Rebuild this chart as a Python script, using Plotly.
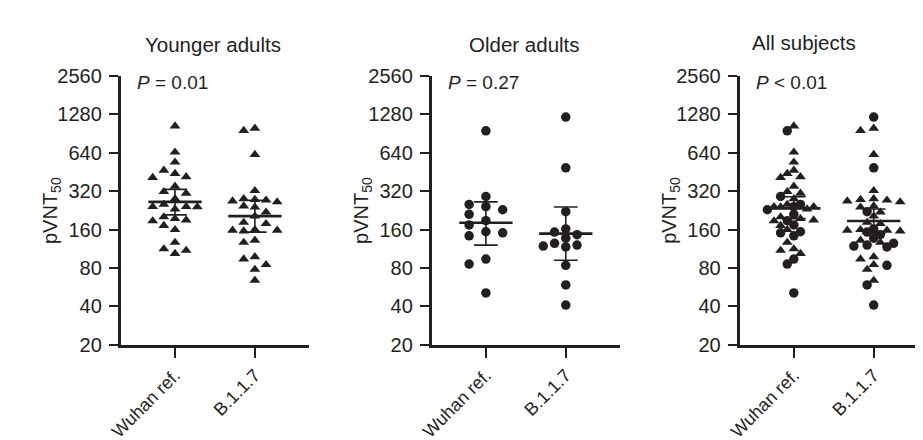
import numpy as np
import plotly.graph_objects as go

# ---------------- data ----------------
categories = ["Wuhan ref.", "B.1.1.7"]
panel_titles = ["Younger adults", "Older adults", "All subjects"]
p_labels = ["<i>P</i> = 0.01", "<i>P</i> = 0.27", "<i>P</i> < 0.01"]
y_tick_values = [20, 40, 80, 160, 320, 640, 1280, 2560]
y_tick_labels = ["20", "40", "80", "160", "320", "640", "1280", "2560"]

young_wuhan = [1037, 648, 540, 467, 440, 415, 409, 350, 317, 308, 279, 252, 242,
               242, 241, 232, 201, 195, 190, 187, 172, 160, 127, 113, 110, 104]
young_b117 = [997, 957, 620, 323, 279, 275, 272, 268, 264, 245, 240, 219, 204,
              182, 178, 160, 158, 158, 156, 132, 127, 98, 94, 85, 78, 64]
old_wuhan = [951, 291, 252, 242, 229, 211, 188, 174, 154, 151, 143, 94, 86, 51]
old_b117 = [1219, 488, 221, 162, 153, 146, 137, 125, 121, 119, 117, 84, 59, 41]

# geometric mean and 95% CI per panel: [Wuhan ref., B.1.1.7]
gmt_young = [264, 204]
ci_low_young = [209, 153]
ci_high_young = [331, 272]
gmt_old = [181, 149]
ci_low_old = [121, 92]
ci_high_old = [264, 241]
gmt_all = [235, 187]
ci_low_all = [195, 150]
ci_high_all = [290, 232]

# ---------------- layout geometry ----------------
W, H = 923, 440
INK = "#231f20"
FONT = "Liberation Sans, Arial, sans-serif"
axis_left_px = [102, 417, 729]
axis_width_px = 191
plot_top_px, plot_bottom_px = 60, 343
x_range = [-0.68, 1.68]
PX_X = axis_width_px / (x_range[1] - x_range[0])
PX_LOG2 = (plot_bottom_px - plot_top_px) / (np.log2(2560) - np.log2(20))

# swarm settings per panel: (step px per category, max slots, min distance px)
swarm_cfg = [
    [(11.3, 2, 9.0), (11.3, 2, 9.0)],
    [(17.0, 1, 9.0), (11.4, 2, 9.0)],
    [(6.7, 4, 7.5), (6.7, 4, 7.5)],
]


def swarm(vals, step_px, kmax, dmin):
    y = np.log2(np.asarray(vals, float)) * PX_LOG2
    order = np.argsort(-y, kind="stable")
    cand = [0]
    for k in range(1, kmax + 1):
        cand += [-k, k]
    placed = []
    off = np.zeros(len(y))
    for i in order:
        best, bestd = 0, -1.0
        for k in cand:
            ds = [np.hypot((k - pk) * step_px, y[i] - py) for pk, py in placed]
            d = min(ds) if ds else 1e9
            if d >= dmin:
                best = k
                break
            if d > bestd:
                bestd, best = d, k
        placed.append((best, y[i]))
        off[i] = best * step_px
    return off / PX_X


panels = [
    [[(v, "triangle-up") for v in young_wuhan], [(v, "triangle-up") for v in young_b117]],
    [[(v, "circle") for v in old_wuhan], [(v, "circle") for v in old_b117]],
    [[(v, "triangle-up") for v in young_wuhan] + [(v, "circle") for v in old_wuhan],
     [(v, "triangle-up") for v in young_b117] + [(v, "circle") for v in old_b117]],
]
summaries = [
    (gmt_young, ci_low_young, ci_high_young),
    (gmt_old, ci_low_old, ci_high_old),
    (gmt_all, ci_low_all, ci_high_all),
]

fig = go.Figure()
MEAN_HALF = 27 / PX_X
CAP_HALF = 12 / PX_X

for p in range(3):
    xa = "x" if p == 0 else f"x{p+1}"
    ya = "y" if p == 0 else f"y{p+1}"
    pts = {"triangle-up": ([], []), "circle": ([], [])}
    for c in range(2):
        vals = [v for v, s in panels[p][c]]
        syms = [s for v, s in panels[p][c]]
        step, kmax, dmin = swarm_cfg[p][c]
        offs = swarm(vals, step, kmax, dmin)
        for v, s, o in zip(vals, syms, offs):
            pts[s][0].append(c + o)
            pts[s][1].append(v)
    for sym, (xs, ys) in pts.items():
        if not xs:
            continue
        fig.add_trace(go.Scatter(
            x=xs, y=ys, mode="markers", xaxis=xa, yaxis=ya,
            marker=dict(symbol=sym, size=9.5, color=INK, line=dict(width=0)),
            showlegend=False, hoverinfo="skip"))
    gm, lo, hi = summaries[p]
    mx, my, ex, ey = [], [], [], []
    for c in range(2):
        mx += [c - MEAN_HALF, c + MEAN_HALF, None]
        my += [gm[c], gm[c], None]
        ex += [c - CAP_HALF, c + CAP_HALF, None, c, c, None, c - CAP_HALF, c + CAP_HALF, None]
        ey += [hi[c], hi[c], None, hi[c], lo[c], None, lo[c], lo[c], None]
    fig.add_trace(go.Scatter(x=ex, y=ey, mode="lines", xaxis=xa, yaxis=ya,
                             line=dict(color=INK, width=1.6), showlegend=False,
                             hoverinfo="skip"))
    fig.add_trace(go.Scatter(x=mx, y=my, mode="lines", xaxis=xa, yaxis=ya,
                             line=dict(color=INK, width=2.6), showlegend=False,
                             hoverinfo="skip"))

layout = dict(
    width=W, height=H, margin=dict(l=0, r=0, t=0, b=0),
    paper_bgcolor="white", plot_bgcolor="white",
    font=dict(family=FONT, color=INK, size=20),
    showlegend=False,
)
ydom = [1 - plot_bottom_px / H, 1 - plot_top_px / H]
annotations = []
for p in range(3):
    sx = "" if p == 0 else str(p + 1)
    x0 = axis_left_px[p] / W
    x1 = (axis_left_px[p] + axis_width_px) / W
    layout[f"xaxis{sx}"] = dict(
        domain=[x0, x1], range=x_range, anchor=f"y{sx}",
        tickmode="array", tickvals=[0, 1], ticktext=categories, tickangle=-45,
        ticks="outside", ticklen=10, tickwidth=2.2, tickcolor=INK,
        showline=True, linewidth=2.6, linecolor=INK, showgrid=False,
        zeroline=False, tickfont=dict(size=18, family=FONT, color=INK),
        fixedrange=True)
    layout[f"yaxis{sx}"] = dict(
        domain=ydom, type="log", range=[np.log10(20), np.log10(2560)],
        anchor=f"x{sx}", tickmode="array", tickvals=y_tick_values,
        ticktext=y_tick_labels, ticks="outside", ticklen=9, tickwidth=2.2,
        tickcolor=INK, showline=True, linewidth=2.6, linecolor=INK,
        showgrid=False, zeroline=False, ticklabelstandoff=3,
        tickfont=dict(size=20, family=FONT, color=INK), fixedrange=True)
    ax = axis_left_px[p]
    title_cx = [196, 511, 794][p]
    title_cy = [27, 27, 25][p]
    annotations.append(dict(text=panel_titles[p], xref="paper", yref="paper",
                            x=title_cx / W, y=1 - title_cy / H, xanchor="center",
                            yanchor="middle", showarrow=False,
                            font=dict(size=20.5, family=FONT, color=INK)))
    annotations.append(dict(text="pVNT<sub>50</sub>", xref="paper", yref="paper",
                            x=(ax - 70) / W, y=1 - 201.5 / H, xanchor="center",
                            yanchor="middle", textangle=-90, showarrow=False,
                            font=dict(size=20, family=FONT, color=INK)))
    annotations.append(dict(text=p_labels[p], xref="paper", yref="paper",
                            x=(ax + 15) / W, y=1 - 67 / H, xanchor="left",
                            yanchor="middle", showarrow=False,
                            font=dict(size=19, family=FONT, color=INK)))
layout["annotations"] = annotations
fig.update_layout(**layout)
fig.write_html("out.html")
